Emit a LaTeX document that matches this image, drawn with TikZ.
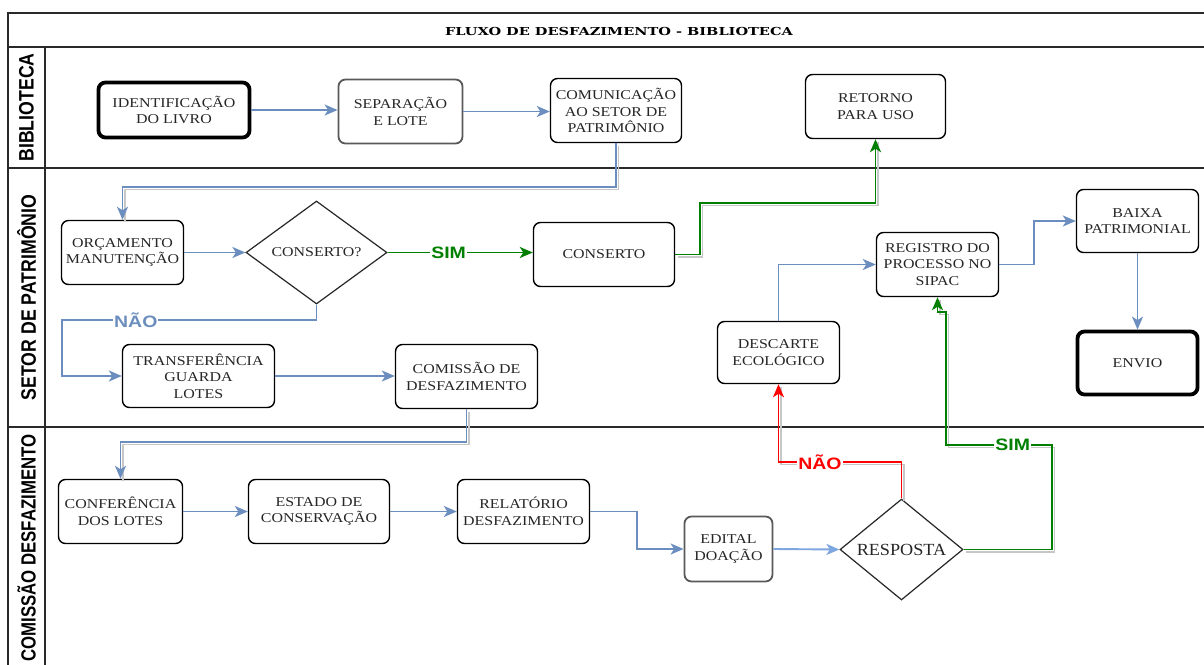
\documentclass[tikz,border=0pt]{standalone}
\usepackage{fontspec}
\usepackage{graphicx}
\setmainfont{Liberation Serif}
\newfontfamily\boxfont[FakeStretch=1.18]{Liberation Serif}
\newfontfamily\respfont[FakeStretch=1.07]{Liberation Serif}
\newfontfamily\titlefont[FakeStretch=1.32]{DejaVu Serif}
\newfontfamily\lblfont[FakeStretch=1.18]{Liberation Sans}
\newfontfamily\lanefont{Liberation Sans}
\usetikzlibrary{shapes.geometric,arrows.meta}
\definecolor{txt}{HTML}{262626}
\definecolor{flowblue}{HTML}{6C8EBF}
\definecolor{flowlight}{HTML}{7EA6E0}
\definecolor{flowgreen}{HTML}{007F00}
\definecolor{flowred}{HTML}{FF0000}
\definecolor{framec}{HTML}{2A2A2A}
\tikzset{
  box/.style={draw=black, line width=1.4pt, rounded corners=7pt, fill=white, align=center, text=txt,
    font=\boxfont\fontsize{13.5}{16.5}\selectfont, inner sep=2pt},
  boxthick/.style={box, line width=3.8pt},
  boxgray/.style={box, draw=black!65, line width=1.8pt},
  decision/.style={diamond, draw=black!85, line width=1.2pt, fill=white, inner sep=0pt, align=center, text=txt},
  conn/.style={line width=1.9pt, -{Stealth[length=13pt,width=11pt,inset=3.5pt]}},
  shadowed/.style={preaction={draw=black!22, line width=1.4pt, -, transform canvas={xshift=2.5pt,yshift=-2.5pt}}},
  lbl/.style={fill=white, inner sep=1pt, font=\lblfont\bfseries\fontsize{16.5}{16.5}\selectfont},
  lane/.style={rotate=90, text=black},
  frameline/.style={draw=framec, line width=1.6pt}
}
\begin{document}
\begin{tikzpicture}[x=1pt,y=-1pt]
\useasboundingbox (0,0) rectangle (1204,664);
\fill[white] (0,0) rectangle (1204,664);
\clip (0,0) rectangle (1204,664);
% frame
\draw[frameline] (8,13) rectangle (1250,700);
\draw[frameline] (8,47) -- (1250,47);
\draw[frameline] (45,47) -- (45,700);
\draw[frameline] (8,168) -- (1250,168);
\draw[frameline] (8,427) -- (1250,427);
\node[font=\titlefont\bfseries\fontsize{11}{11}\selectfont] (title) at (619,31) {FLUXO DE DESFAZIMENTO - BIBLIOTECA};
\node[lane, font=\lanefont\bfseries\fontsize{17.7}{17.7}\selectfont] (lane1) at (26.5,107.5) {\scalebox{1}[1.18]{BIBLIOTECA}};
\node[lane, font=\lanefont\bfseries\fontsize{17.7}{17.7}\selectfont] (lane2) at (26.5,297.5) {\scalebox{1}[1.18]{SETOR DE PATRIMÔNIO}};
\node[lane, font=\lanefont\bfseries\fontsize{16.8}{16.8}\selectfont] (lane3) at (26.5,548) {\scalebox{1}[1.22]{COMISSÃO DESFAZIMENTO}};
% nodes
\node[boxthick, minimum width=151pt, minimum height=55pt] (ident) at (174,110) {IDENTIFICAÇÃO\\DO LIVRO};
\node[boxgray, minimum width=124pt, minimum height=64pt] (sep) at (400.5,111.5) {SEPARAÇÃO\\E LOTE};
\node[box, minimum width=131pt, minimum height=64pt] (comun) at (616,110.5) {COMUNICAÇÃO\\AO SETOR DE\\PATRIMÔNIO};
\node[box, minimum width=140pt, minimum height=64pt] (retorno) at (875.5,106.5) {RETORNO\\PARA USO};
\node[box, minimum width=122pt, minimum height=64pt] (orc) at (122.5,252.5) {ORÇAMENTO\\MANUTENÇÃO};
\node[decision, minimum width=141pt, minimum height=103pt, font=\boxfont\fontsize{13.5}{16.5}\selectfont] (consq) at (316.5,252.5) {CONSERTO?};
\node[box, minimum width=141pt, minimum height=64pt] (conserto) at (604,254.5) {CONSERTO};
\node[box, minimum width=122pt, minimum height=64pt] (regist) at (937.5,264.5) {REGISTRO DO\\PROCESSO NO\\SIPAC};
\node[box, minimum width=122pt, minimum height=63pt] (baixa) at (1137.5,221) {BAIXA\\PATRIMONIAL};
\node[boxthick, minimum width=120pt, minimum height=63pt] (envio) at (1137.5,363) {ENVIO};
\node[box, minimum width=122pt, minimum height=62pt] (descarte) at (778.5,352.5) {DESCARTE\\ECOLÓGICO};
\node[box, minimum width=152pt, minimum height=63pt] (transf) at (198.5,376) {TRANSFERÊNCIA\\GUARDA\\LOTES};
\node[box, minimum width=142pt, minimum height=64pt] (comdes) at (466.5,376.5) {COMISSÃO DE\\DESFAZIMENTO};
\node[box, minimum width=124pt, minimum height=64pt] (confer) at (120.5,511.5) {CONFERÊNCIA\\DOS LOTES};
\node[box, minimum width=141pt, minimum height=64pt] (estado) at (319,511.5) {ESTADO DE\\CONSERVAÇÃO};
\node[box, minimum width=132pt, minimum height=64pt] (relat) at (523.5,511.5) {RELATÓRIO\\DESFAZIMENTO};
\node[boxgray, minimum width=88pt, minimum height=65pt] (edital) at (728.5,549) {EDITAL\\DOAÇÃO};
\node[decision, minimum width=123pt, minimum height=95pt, font=\respfont\fontsize{17}{17}\selectfont] (resp) at (901.5,549.5) {RESPOSTA};
% coordinates
\coordinate (c1) at (0,187);
\coordinate (g1) at (700,203);
\coordinate (n1) at (62,320);
\coordinate (c2) at (0,442);
\coordinate (e1) at (637,549);
\coordinate (r1) at (779,462);
\coordinate (s1) at (1052,445);
\coordinate (s2) at (946,445);
\coordinate (s3) at (946,312);
\coordinate (b1) at (1034,221);
% connectors
\draw[conn, flowblue] (ident.east) -- (ident.east -| sep.west);
\draw[conn, flowblue] (sep.east) -- (sep.east -| comun.west);
\draw[conn, flowblue, shadowed] (comun.south) -- (comun.south |- c1) -| (orc.north);
\draw[conn, flowblue] (orc.east) -- (orc.east -| consq.west);
\draw[conn, flowgreen] (consq.east) -- node[lbl, text=flowgreen, pos=0.42]{SIM} (consq.east -| conserto.west);
\draw[conn, flowgreen, shadowed] (conserto.east) -| (g1) -| (retorno.south);
\draw[conn, flowblue] (consq.south) |- node[lbl, text=flowblue, pos=0.855]{NÃO} (n1) |- (transf.west);
\draw[conn, flowblue] (transf.east) -- (transf.east -| comdes.west);
\draw[conn, flowblue, shadowed] (comdes.south) -- (comdes.south |- c2) -| (confer.north);
\draw[conn, flowblue] (confer.east) -- (confer.east -| estado.west);
\draw[conn, flowblue] (estado.east) -- (estado.east -| relat.west);
\draw[conn, flowblue] (relat.east) -| (e1) -- (edital.west);
\draw[conn, flowlight] (edital.east) -- (resp.west);
\draw[conn, flowred, shadowed] (resp.north) |- node[lbl, text=flowred, pos=0.833]{NÃO} (r1) -| (descarte.south);
\draw[conn, flowgreen, shadowed] (resp.east) -| (s1) -- node[lbl, text=flowgreen, pos=0.37]{SIM} (s2) -- (s3) -| (regist.south);
\draw[conn, flowblue] (descarte.north) |- (regist.west);
\draw[conn, flowblue] (regist.east) -| (b1) -- (baixa.west);
\draw[conn, flowblue] (baixa.south) -- (envio.north);
\end{tikzpicture}
\end{document}
